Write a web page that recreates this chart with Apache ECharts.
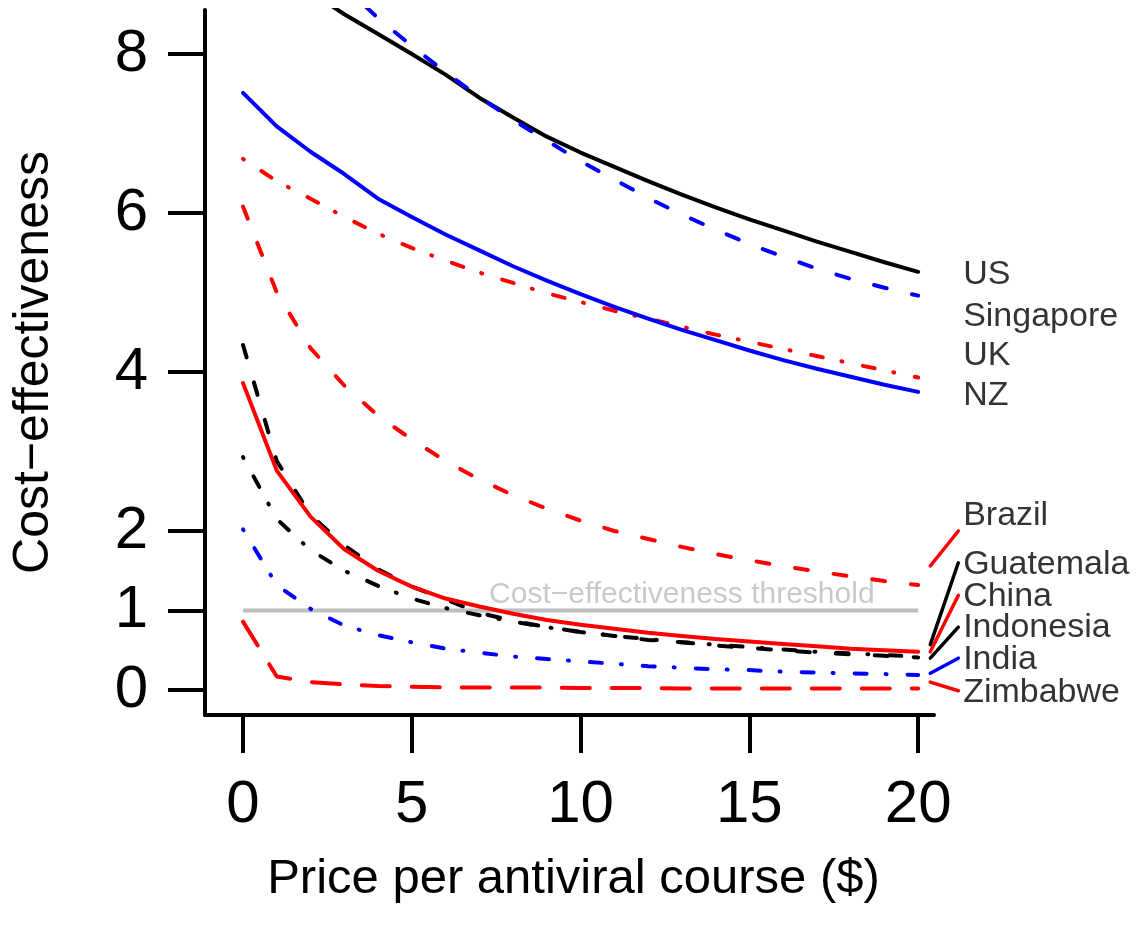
<!DOCTYPE html>
<html><head><meta charset="utf-8">
<script src="https://cdn.jsdelivr.net/npm/echarts@6/dist/echarts.min.js"></script>
<style>html,body{margin:0;padding:0;background:#fff}#c{width:1143px;height:928px}</style>
</head><body><div id="c"></div>
<script>
// ---- data ----
const price      = [0,1,2,3,4,5,6,7,8,9,10,11,12,13,14,15,16,17,18,19,20];
const us         = [9.6,9.2,8.78,8.5,8.25,8.0,7.74,7.45,7.2,6.96,6.76,6.58,6.4,6.23,6.07,5.92,5.78,5.64,5.51,5.38,5.26];
const singapore  = [10.5,9.9,9.35,8.85,8.45,8.1,7.77,7.46,7.17,6.91,6.65,6.42,6.19,5.98,5.79,5.61,5.45,5.3,5.17,5.06,4.96];
const uk         = [6.68,6.4,6.18,5.95,5.74,5.56,5.4,5.25,5.12,4.99,4.88,4.77,4.67,4.57,4.47,4.38,4.29,4.2,4.11,4.02,3.93];
const nz         = [7.51,7.09,6.77,6.49,6.18,5.95,5.73,5.53,5.33,5.15,4.98,4.82,4.67,4.53,4.4,4.27,4.15,4.04,3.94,3.84,3.75];
const brazil     = [6.08,5.0,4.3,3.83,3.45,3.15,2.88,2.65,2.45,2.28,2.13,2.0,1.9,1.8,1.71,1.63,1.56,1.49,1.43,1.37,1.32];
const guatemala  = [4.34,2.88,2.2,1.82,1.52,1.3,1.14,0.97,0.87,0.79,0.73,0.68,0.63,0.6,0.56,0.53,0.5,0.47,0.45,0.43,0.41];
const china      = [3.86,2.76,2.18,1.77,1.5,1.3,1.15,1.05,0.96,0.88,0.82,0.77,0.72,0.68,0.64,0.61,0.58,0.55,0.52,0.5,0.48];
const indonesia  = [2.93,2.15,1.76,1.5,1.31,1.15,1.03,0.94,0.86,0.79,0.73,0.68,0.64,0.6,0.57,0.54,0.51,0.48,0.46,0.44,0.42];
const india      = [2.02,1.32,1.02,0.81,0.69,0.6,0.52,0.47,0.42,0.39,0.36,0.33,0.3,0.28,0.26,0.25,0.23,0.22,0.21,0.2,0.19];
const zimbabwe   = [0.86,0.17,0.1,0.07,0.05,0.04,0.035,0.03,0.03,0.03,0.025,0.025,0.025,0.02,0.02,0.02,0.02,0.02,0.02,0.02,0.02];

const xTicks = [0,5,10,15,20];
const yTicks = [0,1,2,4,6,8];

const thresholdValue = 1;
const thresholdRange = [0,20];
const thresholdText = 'Cost\u2212effectiveness threshold';
const thresholdTextX = 13;

const labelNames = ['US','Singapore','UK','NZ','Brazil','Guatemala','China','Indonesia','India','Zimbabwe'];
const labelY     = [5.22,4.70,4.20,3.70,2.19,1.58,1.18,0.78,0.38,-0.03];
const labelX     = 21.2;

const leaderNames = ['Brazil','Guatemala','China','Indonesia','India','Zimbabwe'];
const leaderFrom  = [1.56,0.57,0.48,0.40,0.21,0.10];
const leaderTo    = [2.0,1.60,1.19,0.79,0.40,-0.01];
const leaderX     = [20.36,21.19];

// ---- layout / styles ----
const X_MIN=-1.126, X_MAX=20.47, Y_MIN=-0.3145, Y_MAX=8.553;
const G_LEFT=205, G_RIGHT=209, G_TOP=10, G_BOTTOM=213, W=1143;
// overlay grid extends to the right edge with the same x scale
const X_MAX_WIDE = X_MIN + (X_MAX-X_MIN)*(W-G_LEFT)/(W-G_LEFT-G_RIGHT);

const RED='#ff0000', BLUE='#0000ff', BLACK='#000000', GRAY='#bebebe';
const SOLID='solid', DASH=[13,26], DOTDASH=[1,21,12,19], LONGDASH=[28,22];
const FONT="'Liberation Sans', Arial, sans-serif";
const LW=4;

const curves = [
  {name:'US', data:us, color:BLACK, type:SOLID},
  {name:'Singapore', data:singapore, color:BLUE, type:DASH},
  {name:'UK', data:uk, color:RED, type:DOTDASH},
  {name:'NZ', data:nz, color:BLUE, type:SOLID},
  {name:'Brazil', data:brazil, color:RED, type:DASH},
  {name:'Guatemala', data:guatemala, color:BLACK, type:DASH},
  {name:'China', data:china, color:RED, type:SOLID},
  {name:'Indonesia', data:indonesia, color:BLACK, type:DOTDASH},
  {name:'India', data:india, color:BLUE, type:DOTDASH},
  {name:'Zimbabwe', data:zimbabwe, color:RED, type:LONGDASH}
];
const leaderColors = [RED,BLACK,RED,BLACK,BLUE,RED];

const series = [];
series.push({
  type:'line', name:'threshold', silent:true, symbol:'none', z:1,
  data: thresholdRange.map(x=>[x,thresholdValue]),
  lineStyle:{color:GRAY,width:4}
});
series.push({
  type:'scatter', silent:true, symbolSize:1, itemStyle:{color:'transparent'}, z:1,
  data:[[thresholdTextX, thresholdValue]],
  label:{show:true, position:'top', distance:0, formatter:thresholdText, fontSize:30, color:'#bbbbbb', fontFamily:FONT}
});
curves.forEach(c=>{
  series.push({
    type:'line', name:c.name, symbol:'none', silent:true, z:3,
    data: price.map((p,i)=>[p,c.data[i]]),
    lineStyle:{color:c.color,width:LW,type:c.type,cap:'round',join:'round'}
  });
});
leaderNames.forEach((n,i)=>{
  series.push({
    type:'line', name:'leader-'+n, symbol:'none', silent:true, z:3,
    xAxisIndex:1, yAxisIndex:1,
    data:[[leaderX[0],leaderFrom[i]],[leaderX[1],leaderTo[i]]],
    lineStyle:{color:leaderColors[i],width:3.5,cap:'round'}
  });
});
series.push({
  type:'scatter', silent:true, symbolSize:1, itemStyle:{color:'transparent'},
  xAxisIndex:1, yAxisIndex:1,
  data: labelNames.map((n,i)=>({name:n, value:[labelX,labelY[i]]})),
  label:{show:true, position:'right', distance:4, formatter:'{b}', fontSize:34, color:'#000', fontFamily:FONT}
});

const hiddenAxis = {show:false, axisLine:{show:false}, axisTick:{show:false}, axisLabel:{show:false}, splitLine:{show:false}};

const chart = echarts.init(document.getElementById('c'));
chart.setOption({
  animation:false,
  backgroundColor:'#fff',
  textStyle:{fontFamily:FONT},
  grid:[
    {left:G_LEFT,right:G_RIGHT,top:G_TOP,bottom:G_BOTTOM,containLabel:false},
    {left:G_LEFT,right:0,top:G_TOP,bottom:G_BOTTOM,containLabel:false}
  ],
  xAxis:[{
    type:'value', gridIndex:0, min:X_MIN, max:X_MAX,
    axisLine:{show:true,onZero:false,lineStyle:{color:'#000',width:4}},
    axisTick:{show:true,length:38,customValues:xTicks,lineStyle:{color:'#000',width:4}},
    axisLabel:{customValues:xTicks,fontSize:60,color:'#000',margin:60,fontFamily:FONT},
    splitLine:{show:false},
    name:'Price per antiviral course ($)', nameLocation:'middle', nameGap:140,
    nameTextStyle:{fontSize:49,color:'#000',fontFamily:FONT,padding:[0,0,0,8]}
  },Object.assign({type:'value', gridIndex:1, min:X_MIN, max:X_MAX_WIDE}, hiddenAxis)],
  yAxis:[{
    type:'value', gridIndex:0, min:Y_MIN, max:Y_MAX,
    axisLine:{show:true,onZero:false,lineStyle:{color:'#000',width:4}},
    axisTick:{show:true,length:37,customValues:yTicks,lineStyle:{color:'#000',width:4}},
    axisLabel:{customValues:yTicks,fontSize:60,color:'#000',margin:57,fontFamily:FONT},
    splitLine:{show:false},
    name:'Cost\u2212effectiveness', nameLocation:'middle', nameGap:146, nameRotate:90,
    nameTextStyle:{fontSize:50,color:'#000',fontFamily:FONT}
  },Object.assign({type:'value', gridIndex:1, min:Y_MIN, max:Y_MAX}, hiddenAxis)],
  series:series
});
</script>
</body></html>
